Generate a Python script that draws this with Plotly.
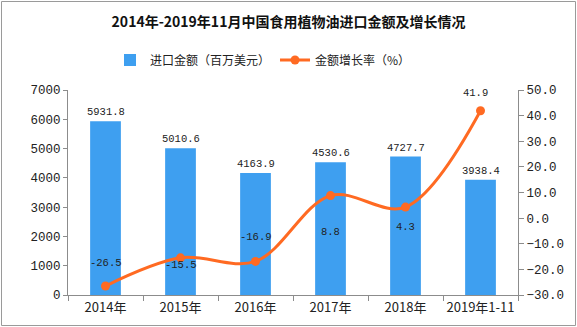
import plotly.graph_objects as go

# Import value of edible vegetable oil and its year-on-year growth
categories = ["2014年", "2015年", "2016年", "2017年", "2018年", "2019年1-11"]
import_value = [5931.8, 5010.6, 4163.9, 4530.6, 4727.7, 3938.4]  # million USD
growth_rate = [-26.5, -15.5, -16.9, 8.8, 4.3, 41.9]  # %

bar_name = "进口金额（百万美元）"
line_name = "金额增长率（%）"
title_text = "2014年-2019年11月中国食用植物油进口金额及增长情况"

BAR_COLOR = "#3E9FF0"
LINE_COLOR = "#FF6A22"
AXIS_COLOR = "#8c8c8c"
FONT = "Noto Sans CJK SC"
NUM_FONT = "Liberation Mono, Noto Sans CJK SC"

# plot-area geometry in pixels (used to place the outer frame and legend)
W, H = 577, 327
ML, MR, MT, MB = 68, 59, 90, 32
PW, PH = W - ML - MR, H - MT - MB

fig = go.Figure()
fig.add_trace(go.Bar(
    x=categories, y=import_value, name=bar_name,
    marker=dict(color=BAR_COLOR, line=dict(width=0)),
    width=0.41, yaxis="y",
))
fig.add_trace(go.Scatter(
    x=categories, y=growth_rate, name=line_name, yaxis="y2",
    mode="lines+markers",
    line=dict(color=LINE_COLOR, width=3, shape="spline", smoothing=1.0),
    marker=dict(color=LINE_COLOR, size=9),
))

annotations = []
# value labels above bars
for c, v in zip(categories, import_value):
    annotations.append(dict(
        x=c, y=v, xref="x", yref="y", text=f"{v:.1f}", showarrow=False,
        yshift=9, font=dict(family=NUM_FONT, size=10.5, color="#222"),
    ))
# growth-rate labels around the line points
shifts = [(0, 23), (0, -7), (0, 24), (0, -36), (0, -20), (-5, 18)]
for c, v, (dx, dy) in zip(categories, growth_rate, shifts):
    annotations.append(dict(
        x=c, y=v, xref="x", yref="y2", text=f"{v:.1f}", showarrow=False,
        xshift=dx, yshift=dy, font=dict(family=NUM_FONT, size=10.5, color="#222"),
    ))

# outer frame around the whole image
px = lambda p: (p - ML) / PW
py = lambda p: (H - MB - p) / PH
shapes = [dict(
    type="rect", xref="paper", yref="paper",
    x0=px(1.5), x1=px(575.5), y0=py(325.5), y1=py(1.5),
    line=dict(color="#9a9a9a", width=1), fillcolor="rgba(0,0,0,0)", layer="below",
)]

fig.update_layout(
    width=W, height=H,
    margin=dict(l=ML, r=MR, t=MT, b=MB, pad=0, autoexpand=False),
    paper_bgcolor="white", plot_bgcolor="white",
    font=dict(family=FONT, size=12, color="#222"),
    title=dict(text=f"<b>{title_text}</b>", x=0.5, xanchor="center",
               y=1 - 22 / H, yanchor="middle",
               font=dict(family=FONT, size=14, color="#111")),
    showlegend=True,
    legend=dict(orientation="h", x=px(110), xanchor="left", y=py(60), yanchor="middle",
                font=dict(family=FONT, size=12), itemwidth=30,
                bgcolor="rgba(0,0,0,0)", tracegroupgap=0),
    bargap=0.59,
    xaxis=dict(
        type="category", showgrid=False, showline=True, linecolor=AXIS_COLOR,
        ticks="outside", tickson="boundaries", ticklen=5, tickcolor=AXIS_COLOR,
        tickfont=dict(family=FONT, size=13), zeroline=False, tickangle=0,
        automargin=False,
    ),
    yaxis=dict(
        range=[0, 7000], dtick=1000, showgrid=False, showline=True,
        linecolor=AXIS_COLOR, ticks="outside", ticklen=4, tickcolor=AXIS_COLOR,
        tickfont=dict(family=NUM_FONT, size=12.5), zeroline=False, tickformat="d",
        automargin=False,
    ),
    yaxis2=dict(
        range=[-30, 50], dtick=10, overlaying="y", side="right", showgrid=False,
        showline=True, linecolor=AXIS_COLOR, ticks="outside", ticklen=5,
        tickcolor=AXIS_COLOR, tickformat=".1f", zeroline=False,
        tickfont=dict(family=NUM_FONT, size=12.5), automargin=False,
    ),
    annotations=annotations,
    shapes=shapes,
)

fig.write_html("out.html")
